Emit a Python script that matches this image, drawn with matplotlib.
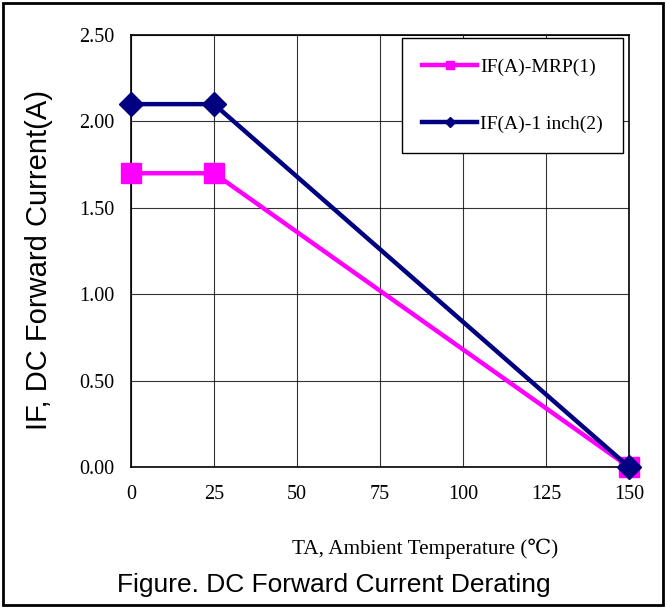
"""Derating curve: DC forward current vs ambient temperature"""

import matplotlib
matplotlib.use('Agg')
import matplotlib.pyplot as plt
from matplotlib.patches import Rectangle

SERIF = ['Liberation Serif', 'DejaVu Serif']
SANS = ['Liberation Sans', 'DejaVu Sans']

temperature = [0, 25, 150]
current_mrp = [1.70, 1.70, 0.0]
current_inch = [2.10, 2.10, 0.0]
series_names = ['IF(A)-MRP(1)', 'IF(A)-1 inch(2)']

x_ticks = [0, 25, 50, 75, 100, 125, 150]
y_ticks = [0.0, 0.5, 1.0, 1.5, 2.0, 2.5]

fig = plt.figure(figsize=(6.66, 6.08), dpi=100)
ax = fig.add_axes([131 / 666, 141 / 608, 498 / 666, 432 / 608])

ax.plot(temperature, current_mrp, color='#ff00ff', lw=3.2, marker='s', ms=15,
        label=series_names[0], zorder=3)
ax.plot(temperature, current_inch, color='#000080', lw=3.2, marker='D', ms=12,
        label=series_names[1], zorder=4)

ax.set_xlim(0, 150)
ax.set_ylim(0, 2.5)
ax.set_xticks(x_ticks)
ax.set_yticks(y_ticks)
ax.set_xticklabels([str(t) for t in x_ticks], family=SERIF, fontsize=14.5)
ax.set_yticklabels(['{:.2f}'.format(v) for v in y_ticks], family=SERIF, fontsize=14.5)
ax.tick_params(axis='x', length=0, pad=13)
ax.tick_params(axis='y', length=0, pad=12)
ax.grid(True, color='black', lw=0.8, alpha=0.8)
ax.set_axisbelow(True)
for s in ax.spines.values():
    s.set_linewidth(1.2)
    s.set_clip_on(False)
for line in ax.lines:
    line.set_clip_on(False)

leg = ax.legend(loc='upper left', bbox_to_anchor=(402 / 666, 1 - 38 / 608),
                bbox_transform=fig.transFigure, prop={'family': SERIF, 'size': 14},
                markerscale=0.42, handlelength=2.8, handletextpad=0.15,
                labelspacing=2.0, borderpad=1.05, borderaxespad=0,
                fancybox=False, framealpha=1, edgecolor='black')
leg.get_frame().set_linewidth(1.0)

fig.text(39 / 666, 1 - 260 / 608, 'IF, DC Forward Current(A)', rotation=90,
         ha='center', va='center', family=SANS, fontsize=21)
fig.text(425 / 666, 1 - 549 / 608, 'TA, Ambient Temperature (\u2103)',
         ha='center', va='center', family=SERIF, fontsize=15.3)
fig.text(334 / 666, 1 - 585 / 608, 'Figure. DC Forward Current Derating',
         ha='center', va='center', family=SANS, fontsize=19)

fig.patches.append(Rectangle((3 / 666, 3 / 608), 660 / 666, 602 / 608,
                             transform=fig.transFigure, fill=False,
                             edgecolor='black', lw=2))

fig.savefig('out.png', dpi=100)
